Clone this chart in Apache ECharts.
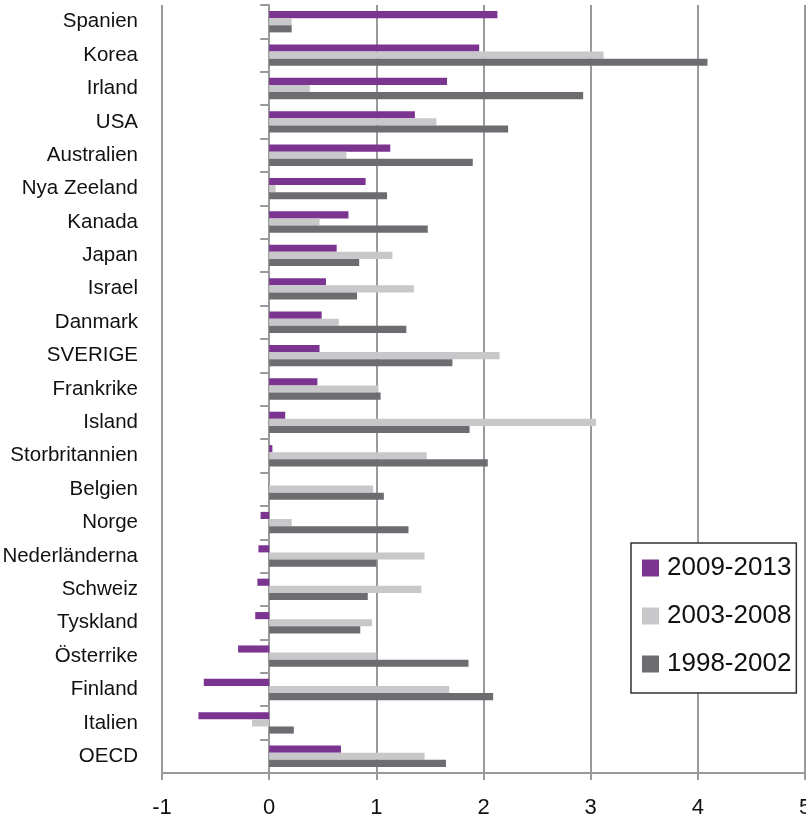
<!DOCTYPE html>
<html>
<head>
<meta charset="utf-8">
<script src="https://cdn.jsdelivr.net/npm/echarts@6/dist/echarts.min.js"></script>
<style>
  html, body { margin: 0; padding: 0; background: #fff; }
  #chart { width: 806px; height: 821px; }
</style>
</head>
<body>
<div id="chart"></div>
<script>
// Countries, listed top to bottom
const countries = [
  'Spanien', 'Korea', 'Irland', 'USA', 'Australien', 'Nya Zeeland', 'Kanada',
  'Japan', 'Israel', 'Danmark', 'SVERIGE', 'Frankrike', 'Island',
  'Storbritannien', 'Belgien', 'Norge', 'Nederländerna', 'Schweiz',
  'Tyskland', 'Österrike', 'Finland', 'Italien', 'OECD'
];

const seriesNames = ['2009-2013', '2003-2008', '1998-2002'];

const values2009_2013 = [
  2.13, 1.96, 1.66, 1.36, 1.13, 0.90, 0.74, 0.63, 0.53, 0.49, 0.47, 0.45, 0.15,
  0.03, 0.00, -0.08, -0.10, -0.11, -0.13, -0.29, -0.61, -0.66, 0.67
];
const values2003_2008 = [
  0.21, 3.12, 0.38, 1.56, 0.72, 0.06, 0.47, 1.15, 1.35, 0.65, 2.15, 1.02, 3.05,
  1.47, 0.97, 0.21, 1.45, 1.42, 0.96, 1.00, 1.68, -0.16, 1.45
];
const values1998_2002 = [
  0.21, 4.09, 2.93, 2.23, 1.90, 1.10, 1.48, 0.84, 0.82, 1.28, 1.71, 1.04, 1.87,
  2.04, 1.07, 1.30, 1.00, 0.92, 0.85, 1.86, 2.09, 0.23, 1.65
];

const xTicks = { min: -1, max: 5, step: 1 };

const colors = ['#7b3590', '#c8c8ca', '#6d6d71'];
const fontFamily = "'Liberation Sans Narrow', 'Liberation Sans', Arial, sans-serif";
const gridColor = '#9a9a9c';

const chart = echarts.init(document.getElementById('chart'), null, { renderer: 'canvas' });

const seriesData = [values2009_2013, values2003_2008, values1998_2002];

chart.setOption({
  animation: false,
  backgroundColor: '#ffffff',
  textStyle: { fontFamily: fontFamily },
  grid: {
    left: 162, right: 1, top: 5, bottom: 48,
    containLabel: false,
    outerBoundsMode: 'none'
  },
  legend: {
    data: seriesNames,
    orient: 'vertical',
    left: 631,
    top: 543,
    itemWidth: 17,
    itemHeight: 17,
    itemGap: 22,
    icon: 'rect',
    padding: [12, 5, 16, 11],
    borderColor: '#333333',
    borderWidth: 1.5,
    backgroundColor: '#ffffff',
    textStyle: { fontFamily: fontFamily, fontSize: 26, color: '#111111', padding: [0, 0, 0, 3] }
  },
  xAxis: {
    type: 'value',
    min: xTicks.min,
    max: xTicks.max,
    interval: xTicks.step,
    axisLine: { show: true, lineStyle: { color: gridColor, width: 2 } },
    axisTick: { show: true, length: 7, lineStyle: { color: gridColor, width: 2 } },
    axisLabel: { color: '#111111', fontSize: 22, margin: 24, fontFamily: fontFamily },
    splitLine: { show: true, lineStyle: { color: gridColor, width: 2 } }
  },
  yAxis: {
    type: 'category',
    data: countries,
    inverse: true,
    axisLine: { show: true, onZero: true, lineStyle: { color: gridColor, width: 2 } },
    axisTick: { show: true, length: 9, lineStyle: { color: gridColor, width: 2 } },
    axisLabel: { color: '#111111', fontSize: 20.5, margin: 24, fontFamily: fontFamily },
    splitLine: { show: false }
  },
  series: seriesNames.map((name, i) => ({
    name: name,
    type: 'bar',
    data: seriesData[i],
    barGap: '0%',
    barCategoryGap: '36%',
    itemStyle: { color: colors[i] }
  }))
});
</script>
</body>
</html>
